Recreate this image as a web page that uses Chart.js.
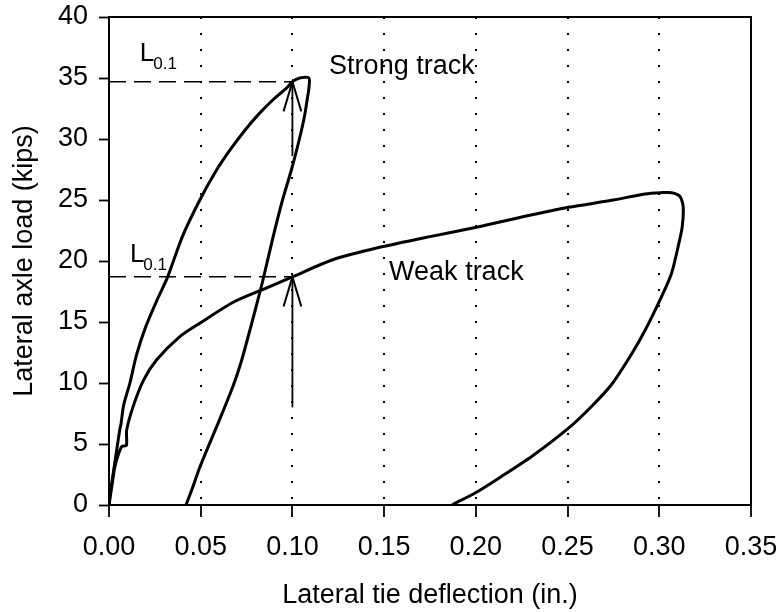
<!DOCTYPE html>
<html>
<head>
<meta charset="utf-8">
<script src="https://cdn.jsdelivr.net/npm/chart.js@4.4.1/dist/chart.umd.min.js"></script>
<style>
  html, body { margin: 0; padding: 0; background: #fff; }
</style>
</head>
<body>
<canvas id="loadChart" width="780" height="612"></canvas>
<script>
// strong track loop (load up, then unload)
const strongX = [0, 0.001, 0.002, 0.004, 0.006, 0.0065, 0.008, 0.0114, 0.015, 0.02, 0.0265, 0.032, 0.040, 0.0495, 0.058, 0.066, 0.074, 0.082, 0.090, 0.097, 0.100,
  0.104, 0.109, 0.109, 0.108, 0.1065, 0.1038, 0.0995, 0.0946, 0.0895, 0.0837, 0.078, 0.072, 0.0675, 0.060, 0.0495, 0.046, 0.042];
const strongY = [0, 1.3, 2.3, 4.3, 6.3, 6.6, 8.2, 10, 12.3, 14.6, 16.9, 18.7, 22.0, 25.0, 27.3, 29.1, 30.7, 32.1, 33.3, 34.2, 34.7,
  35, 35, 34.2, 33.2, 31.8, 30, 27.5, 25, 22, 18.3, 15, 11.7, 9.7, 6.9, 3.1, 1.6, 0];

// weak track loop
const weakX = [0, 0.001, 0.002, 0.003, 0.005, 0.007, 0.0095, 0.0096, 0.013, 0.0187, 0.026, 0.0386, 0.0495, 0.0675, 0.086, 0.100, 0.122, 0.147, 0.175, 0.2016, 0.225, 0.2505, 0.275, 0.2922, 0.301,
  0.3067, 0.3112, 0.313, 0.3125, 0.3103, 0.3067, 0.3013, 0.2922, 0.285, 0.2741, 0.2632, 0.2505, 0.2306, 0.2125, 0.1998, 0.1888, 0.187];
const weakY = [0, 1.0, 2.0, 3.0, 4.1, 4.8, 4.9, 6.1, 8.0, 10.2, 11.9, 13.8, 14.9, 16.6, 17.8, 18.7, 20.1, 21.1, 22.0, 22.8, 23.6, 24.4, 25.0, 25.5, 25.6,
  25.6, 25.3, 24.5, 22.8, 21.2, 19.0, 17.1, 14.3, 12.4, 9.9, 8.1, 6.3, 4.0, 2.2, 1.0, 0.15, 0];

// L0.1 guide lines and arrows
const strongL = 34.7;
const weakL = 18.7;
const guideX = [0, 0.1];
const strongArrowY = [28.6, 34.7];
const weakArrowY = [8, 18.7];

// text labels (value positions, left/baseline)
const labelText = ["Strong track", "Weak track"];
const labelX = [0.120, 0.1527];
const labelY = [35.3, 18.45];
const subLabelX = [0.0168, 0.0114];
const subLabelY = [36.4, 19.9];

const xTicks = [0, 0.05, 0.1, 0.15, 0.2, 0.25, 0.3, 0.35];

function pts(xs, ys) {
  return xs.map((x, i) => ({ x: x, y: ys[i] }));
}

const FONT = "'Liberation Sans', Arial, sans-serif";

const arrowPlugin = {
  id: 'arrows',
  afterDatasetsDraw(chart) {
    const ctx = chart.ctx;
    chart.data.datasets.forEach((ds, i) => {
      if (!ds.arrow) return;
      const els = chart.getDatasetMeta(i).data;
      const tip = els[els.length - 1];
      const prev = els[els.length - 2];
      const ang = Math.atan2(tip.y - prev.y, tip.x - prev.x);
      const len = 31, half = 0.29;
      ctx.save();
      ctx.strokeStyle = '#000';
      ctx.lineWidth = 2;
      ctx.beginPath();
      ctx.moveTo(tip.x - len * Math.cos(ang - half), tip.y - len * Math.sin(ang - half));
      ctx.lineTo(tip.x, tip.y);
      ctx.lineTo(tip.x - len * Math.cos(ang + half), tip.y - len * Math.sin(ang + half));
      ctx.stroke();
      ctx.restore();
    });
  }
};

const textPlugin = {
  id: 'texts',
  afterDraw(chart) {
    const ctx = chart.ctx;
    const xs = chart.scales.x, ys = chart.scales.y;
    const a = chart.chartArea;
    ctx.save();
    // frame top and right
    ctx.strokeStyle = '#000';
    ctx.lineWidth = 2;
    ctx.strokeRect(a.left, a.top, a.right - a.left, a.bottom - a.top);
    ctx.fillStyle = '#000';
    ctx.textBaseline = 'alphabetic';
    ctx.textAlign = 'left';
    ctx.font = '27px ' + FONT;
    for (let i = 0; i < labelText.length; i++) {
      ctx.fillText(labelText[i], xs.getPixelForValue(labelX[i]), ys.getPixelForValue(labelY[i]));
    }
    for (let i = 0; i < subLabelX.length; i++) {
      const px = xs.getPixelForValue(subLabelX[i]);
      const py = ys.getPixelForValue(subLabelY[i]);
      ctx.font = '26px ' + FONT;
      ctx.fillText('L', px, py);
      const w = ctx.measureText('L').width;
      ctx.font = '17px ' + FONT;
      ctx.fillText('0.1', px + w - 1, py + 8);
    }
    ctx.restore();
  }
};

const ctx = document.getElementById('loadChart').getContext('2d');
new Chart(ctx, {
  type: 'scatter',
  data: {
    datasets: [
      { data: pts(strongX, strongY), showLine: true, borderColor: '#000', borderWidth: 3, pointRadius: 0, tension: 0.25 },
      { data: pts(weakX, weakY), showLine: true, borderColor: '#000', borderWidth: 3, pointRadius: 0, tension: 0.25 },
      { data: pts(guideX, [strongL, strongL]), showLine: true, borderColor: '#000', borderWidth: 1.5, borderDash: [17, 8], pointRadius: 0 },
      { data: pts(guideX, [weakL, weakL]), showLine: true, borderColor: '#000', borderWidth: 1.5, borderDash: [17, 8], pointRadius: 0 },
      { data: pts([0.1, 0.1], strongArrowY), showLine: true, borderColor: '#000', borderWidth: 1.8, pointRadius: 0, arrow: true },
      { data: pts([0.1, 0.1], weakArrowY), showLine: true, borderColor: '#000', borderWidth: 1.8, pointRadius: 0, arrow: true }
    ]
  },
  options: {
    responsive: false,
    animation: false,
    layout: { padding: { top: 17, right: 29, left: 0, bottom: 0 } },
    plugins: {
      legend: { display: false },
      tooltip: { enabled: false }
    },
    scales: {
      x: {
        type: 'linear',
        min: 0,
        max: 0.35,
        afterBuildTicks: s => { s.ticks = xTicks.map(v => ({ value: v })); },
        afterFit: s => { s.height = 107; s.paddingLeft = 0; s.paddingRight = 0; },
        ticks: {
          color: '#000',
          font: { family: FONT, size: 27 },
          padding: 14,
          maxRotation: 0,
          callback: v => v.toFixed(2)
        },
        grid: {
          color: c => (c.tick && (c.tick.value <= 0 || c.tick.value >= 0.349)) ? 'rgba(0,0,0,0)' : '#000',
          lineWidth: 2,
          tickColor: '#000',
          tickWidth: 1.8,
          tickLength: 12,
          tickBorderDash: []
        },
        border: { color: '#000', width: 2, dash: [2, 14] },
        title: {
          display: true,
          text: 'Lateral tie deflection (in.)',
          color: '#000',
          font: { family: FONT, size: 27 },
          padding: { top: 0, bottom: 0 }
        }
      },
      y: {
        min: 0,
        max: 40,
        afterFit: s => { s.width = 109; s.paddingTop = 0; s.paddingBottom = 0; },
        ticks: {
          stepSize: 5,
          color: '#000',
          font: { family: FONT, size: 27 },
          padding: 11
        },
        grid: {
          drawOnChartArea: false,
          tickColor: '#000',
          tickWidth: 1.8,
          tickLength: 10
        },
        border: { color: '#000', width: 2 },
        title: {
          display: true,
          text: 'Lateral axle load (kips)',
          color: '#000',
          font: { family: FONT, size: 27 },
          padding: { top: 8, bottom: 0 }
        }
      }
    }
  },
  plugins: [arrowPlugin, textPlugin]
});
</script>
</body>
</html>
